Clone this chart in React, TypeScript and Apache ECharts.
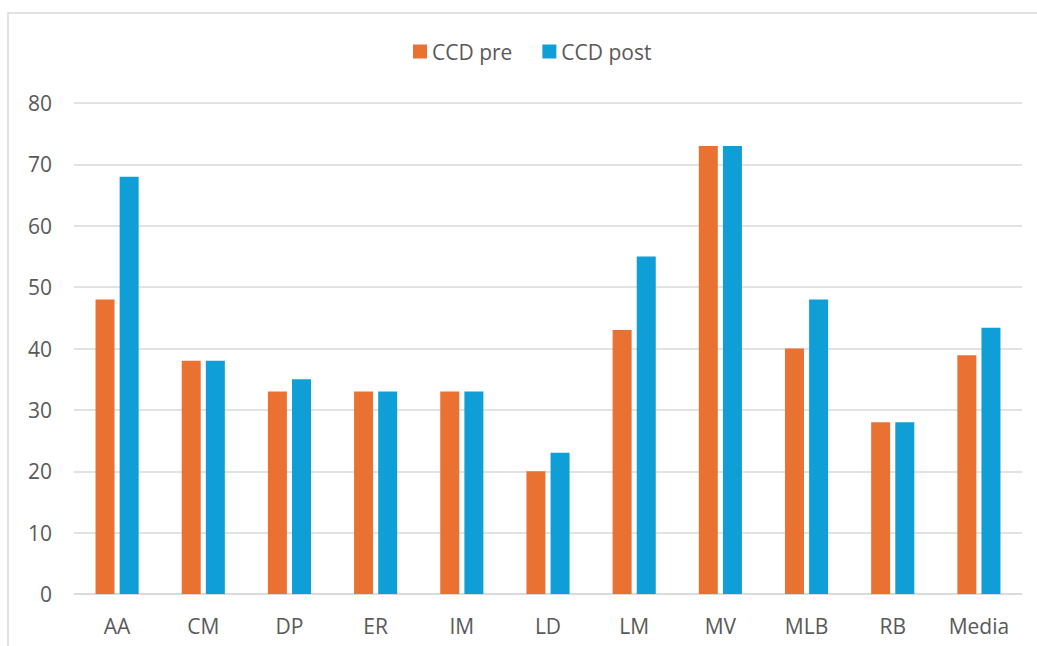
import React, { useEffect, useRef } from "react";
import * as echarts from "echarts";

const categories = ["AA", "CM", "DP", "ER", "IM", "LD", "LM", "MV", "MLB", "RB", "Media"];
const ccdPre = [48, 38, 33, 33, 33, 20, 43, 73, 40, 28, 38.9];
const ccdPost = [68, 38, 35, 33, 33, 23, 55, 73, 48, 28, 43.4];
const seriesNames = ["CCD pre", "CCD post"];
const yMin = 0;
const yMax = 80;
const yInterval = 10;

const FONT = "'Open Sans', 'Noto Sans', sans-serif";
const TEXT = "#595959";
const FS = 21;

export default function App() {
  const ref = useRef<HTMLDivElement>(null);
  useEffect(() => {
    document.body.style.margin = "0";
    const chart = echarts.init(ref.current!, null, { renderer: "svg" });
    chart.setOption({
      animation: false,
      backgroundColor: "#ffffff",
      graphic: [
        {
          type: "rect",
          shape: { x: 8, y: 13, width: 1040, height: 650 },
          style: { fill: "none", stroke: "#d9d9d9", lineWidth: 1.5 },
          silent: true,
        },
      ],
      legend: {
        top: 36,
        left: 408,
        itemWidth: 14,
        itemHeight: 14,
        itemGap: 30,
        icon: "rect",
        textStyle: { color: TEXT, fontSize: FS, fontFamily: FONT },
        data: seriesNames,
      },
      grid: { left: 74, right: 15, top: 103, bottom: 52, containLabel: false },
      xAxis: {
        type: "category",
        data: categories,
        axisTick: { show: false },
        axisLine: { lineStyle: { color: "#d9d9d9", width: 1.5 } },
        axisLabel: { color: TEXT, fontSize: FS, fontFamily: FONT, margin: 21 },
      },
      yAxis: {
        type: "value",
        min: yMin,
        max: yMax,
        interval: yInterval,
        axisLine: { show: false },
        axisTick: { show: false },
        splitLine: { lineStyle: { color: "#d9d9d9", width: 1.5 } },
        axisLabel: { color: TEXT, fontSize: FS, fontFamily: FONT, margin: 22 },
      },
      series: [
        {
          name: seriesNames[0],
          type: "bar",
          data: ccdPre,
          barWidth: 19,
          barGap: "27%",
          itemStyle: { color: "#E97132" },
        },
        {
          name: seriesNames[1],
          type: "bar",
          data: ccdPost,
          barWidth: 19,
          itemStyle: { color: "#0F9ED5" },
        },
      ],
    });
    return () => chart.dispose();
  }, []);
  return (
    <div
      ref={ref}
      style={{ position: "absolute", left: 0, top: 0, width: 1037, height: 646 }}
    />
  );
}
